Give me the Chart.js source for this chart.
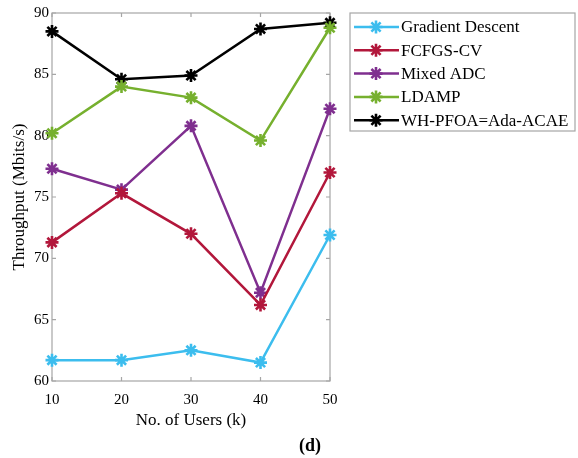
<!DOCTYPE html>
<html>
<head>
<meta charset="utf-8">
<script src="https://cdn.jsdelivr.net/npm/chart.js@4.4.0/dist/chart.umd.min.js"></script>
<style>
  html, body { margin: 0; padding: 0; background: #fff; }
  #wrap { width: 578px; height: 458px; }
</style>
</head>
<body>
<div id="wrap"><canvas id="chart" width="578" height="458"></canvas></div>
<script>
// values
const users = [10, 20, 30, 40, 50];
const gradientDescent = [61.7, 61.7, 62.5, 61.5, 71.9];
const fcfgsCv = [71.3, 75.3, 72.0, 66.2, 77.0];
const mixedAdc = [77.3, 75.6, 80.8, 67.2, 82.2];
const ldamp = [80.2, 84.0, 83.1, 79.6, 88.8];
const whPfoa = [88.5, 84.6, 84.9, 88.7, 89.2];
const xTicks = [10, 20, 30, 40, 50];
const yTicks = [60, 65, 70, 75, 80, 85, 90];

const SERIF = '"Liberation Serif", "Times New Roman", serif';
const FRAME = '#a6a6a6';

function pts(vals) {
    return users.map((u, i) => ({ x: u, y: vals[i] }));
}

function series(label, vals, color) {
    return {
        label, data: pts(vals),
        borderColor: color, backgroundColor: color,
        borderWidth: 2.5,
        pointStyle: 'star', pointRadius: 6.5, pointBorderWidth: 2.6,
        pointHoverRadius: 6.5,
        pointBorderColor: color, pointBackgroundColor: color,
        tension: 0, clip: false
    };
}

function drawStar(ctx, x, y, r) {
    ctx.beginPath();
    for (let k = 0; k < 4; k++) {
        const a = k * Math.PI / 4;
        ctx.moveTo(x - r * Math.cos(a), y - r * Math.sin(a));
        ctx.lineTo(x + r * Math.cos(a), y + r * Math.sin(a));
    }
    ctx.stroke();
}

// box around the plot + inward ticks on all four sides (matlab look)
const framePlugin = {
    id: 'frame',
    beforeDatasetsDraw(chart) {
        const { ctx, chartArea: a, scales: { x, y } } = chart;
        ctx.save();
        ctx.strokeStyle = FRAME;
        ctx.lineWidth = 1.2;
        ctx.strokeRect(a.left, a.top, a.right - a.left, a.bottom - a.top);
        ctx.beginPath();
        xTicks.forEach(v => {
            const px = x.getPixelForValue(v);
            ctx.moveTo(px, a.bottom); ctx.lineTo(px, a.bottom - 4);
            ctx.moveTo(px, a.top); ctx.lineTo(px, a.top + 4);
        });
        yTicks.forEach(v => {
            const py = y.getPixelForValue(v);
            ctx.moveTo(a.left, py); ctx.lineTo(a.left + 4, py);
            ctx.moveTo(a.right, py); ctx.lineTo(a.right - 4, py);
        });
        ctx.stroke();
        ctx.restore();
    }
};

// legend box at the right and the "(d)" caption
const legendPlugin = {
    id: 'sideLegend',
    afterDraw(chart) {
        const { ctx } = chart;
        const bx = 350, by = 13, bw = 225, bh = 118;
        ctx.save();
        ctx.fillStyle = '#fff';
        ctx.fillRect(bx, by, bw, bh);
        ctx.strokeStyle = FRAME;
        ctx.lineWidth = 1.2;
        ctx.strokeRect(bx, by, bw, bh);
        chart.data.datasets.forEach((ds, i) => {
            const cy = 27 + i * 23.3;
            ctx.strokeStyle = ds.borderColor;
            ctx.lineWidth = 2.5;
            ctx.beginPath();
            ctx.moveTo(354, cy); ctx.lineTo(399, cy);
            ctx.stroke();
            ctx.lineWidth = 2.6;
            drawStar(ctx, 376, cy, 6.5);
            ctx.fillStyle = '#000';
            ctx.font = '17px ' + SERIF;
            ctx.textAlign = 'left';
            ctx.textBaseline = 'middle';
            ctx.fillText(ds.label, 401, cy + 1);
        });
        ctx.font = 'bold 18px ' + SERIF;
        ctx.textAlign = 'center';
        ctx.textBaseline = 'middle';
        ctx.fillStyle = '#000';
        ctx.fillText('(d)', 310, 446);
        ctx.restore();
    }
};

new Chart(document.getElementById('chart'), {
    type: 'line',
    data: {
        datasets: [
            series('Gradient Descent', gradientDescent, '#3cbdee'),
            series('FCFGS-CV', fcfgsCv, '#b2173b'),
            series('Mixed ADC', mixedAdc, '#7f2f8f'),
            series('LDAMP', ldamp, '#76b02e'),
            series('WH-PFOA=Ada-ACAE', whPfoa, '#000000')
        ]
    },
    options: {
        responsive: false,
        animation: false,
        layout: { padding: { left: 0, top: 13, right: 248, bottom: 0 } },
        plugins: { legend: { display: false }, tooltip: { enabled: false } },
        scales: {
            x: {
                type: 'linear', min: 10, max: 50,
                afterBuildTicks: s => { s.ticks = xTicks.map(v => ({ value: v })); },
                afterFit: s => { s.height = 77; },
                grid: { display: false, drawTicks: false }, border: { display: false },
                ticks: { color: '#000', font: { family: SERIF, size: 15 }, padding: 10 },
                title: {
                    display: true, text: 'No. of Users (k)', color: '#000',
                    font: { family: SERIF, size: 17 }, padding: { bottom: 27 }
                }
            },
            y: {
                type: 'linear', min: 60, max: 90,
                afterBuildTicks: s => { s.ticks = yTicks.map(v => ({ value: v })); },
                afterFit: s => { s.width = 52; },
                grid: { display: false, drawTicks: false }, border: { display: false },
                ticks: { color: '#000', font: { family: SERIF, size: 15 }, padding: 3 },
                title: {
                    display: true, text: 'Throughput (Mbits/s)', color: '#000',
                    font: { family: SERIF, size: 17 }, padding: { top: 9 }
                }
            }
        }
    },
    plugins: [framePlugin, legendPlugin]
});
</script>
</body>
</html>
